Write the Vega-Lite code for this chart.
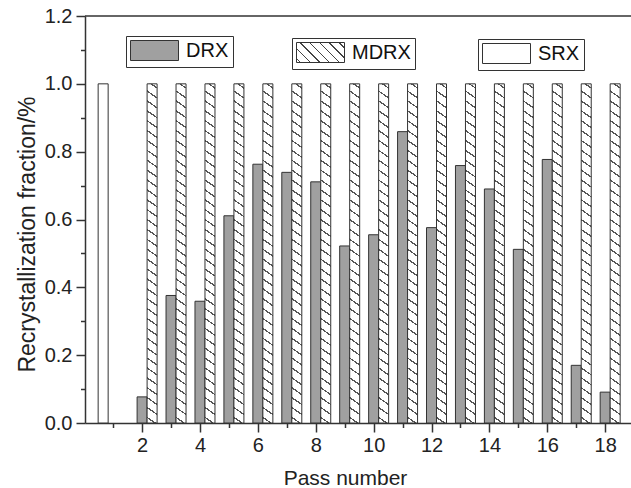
{
  "$schema": "https://vega.github.io/schema/vega-lite/v6.json",
  "width": 546,
  "height": 407,
  "autosize": {"type": "none"},
  "padding": {"left": 85, "top": 16, "right": 0, "bottom": 65},
  "background": "#ffffff",
  "config": {
    "font": "Liberation Sans",
    "view": {"stroke": null},
    "axis": {"grid": false, "domainColor": "#333333", "domainWidth": 1.5, "tickColor": "#333333", "tickWidth": 1.5, "labelFont": "Liberation Sans", "labelFontSize": 20, "labelColor": "#222222", "titleFont": "Liberation Sans", "titleFontWeight": "normal", "titleColor": "#222222", "labelFlush": false, "labelOverlap": false},
    "legend": {"orient": "none", "title": null, "strokeColor": "#333333", "strokeWidth": 1, "padding": 4, "symbolType": "M-1,-1H3.8V1H-1Z", "symbolSize": 400, "symbolStrokeWidth": 1, "labelFont": "Liberation Sans", "labelFontSize": 20, "labelColor": "#111111", "labelOffset": 35, "labelLimit": 200}
  },
  "data": {"values": [
    {"pass": 1, "type": "SRX", "value": 1.0},
    {"pass": 2, "type": "DRX", "value": 0.077},
    {"pass": 3, "type": "DRX", "value": 0.376},
    {"pass": 4, "type": "DRX", "value": 0.359},
    {"pass": 5, "type": "DRX", "value": 0.611},
    {"pass": 6, "type": "DRX", "value": 0.763},
    {"pass": 7, "type": "DRX", "value": 0.739},
    {"pass": 8, "type": "DRX", "value": 0.711},
    {"pass": 9, "type": "DRX", "value": 0.522},
    {"pass": 10, "type": "DRX", "value": 0.555},
    {"pass": 11, "type": "DRX", "value": 0.859},
    {"pass": 12, "type": "DRX", "value": 0.576},
    {"pass": 13, "type": "DRX", "value": 0.759},
    {"pass": 14, "type": "DRX", "value": 0.69},
    {"pass": 15, "type": "DRX", "value": 0.512},
    {"pass": 16, "type": "DRX", "value": 0.777},
    {"pass": 17, "type": "DRX", "value": 0.17},
    {"pass": 18, "type": "DRX", "value": 0.091},
    {"pass": 2, "type": "MDRX", "value": 1.0},
    {"pass": 3, "type": "MDRX", "value": 1.0},
    {"pass": 4, "type": "MDRX", "value": 1.0},
    {"pass": 5, "type": "MDRX", "value": 1.0},
    {"pass": 6, "type": "MDRX", "value": 1.0},
    {"pass": 7, "type": "MDRX", "value": 1.0},
    {"pass": 8, "type": "MDRX", "value": 1.0},
    {"pass": 9, "type": "MDRX", "value": 1.0},
    {"pass": 10, "type": "MDRX", "value": 1.0},
    {"pass": 11, "type": "MDRX", "value": 1.0},
    {"pass": 12, "type": "MDRX", "value": 1.0},
    {"pass": 13, "type": "MDRX", "value": 1.0},
    {"pass": 14, "type": "MDRX", "value": 1.0},
    {"pass": 15, "type": "MDRX", "value": 1.0},
    {"pass": 16, "type": "MDRX", "value": 1.0},
    {"pass": 17, "type": "MDRX", "value": 1.0},
    {"pass": 18, "type": "MDRX", "value": 1.0}
  ]},
  "encoding": {
    "y": {"field": "value", "type": "quantitative", "stack": null,
      "scale": {"domain": [0, 1.2], "nice": false, "zero": true},
      "axis": {"values": [0,0.1,0.2,0.3,0.4,0.5,0.6,0.7,0.8,0.9,1.0,1.1,1.2],
        "format": ".1f",
        "labelExpr": "round(datum.value*10) % 2 == 0 ? datum.label : ''",
        "tickSize": {"condition": {"test": "round(datum.value*10) % 2 == 0", "value": 9}, "value": 4.5},
        "labelPadding": 4, "title": "Recrystallization fraction/%", "titleFontSize": 23, "titlePadding": 5, "titleY": 218}}
  },
  "layer": [
    {
      "data": {"values": [{"value": 1.2}]},
      "mark": {"type": "rule", "color": "#333333", "strokeWidth": 1.5}
    },
    {
      "encoding": {
        "x": {"field": "pass", "type": "quantitative",
          "scale": {"domain": [0.2, 18.72], "nice": false, "zero": false},
          "axis": {"values": [1,2,3,4,5,6,7,8,9,10,11,12,13,14,15,16,17,18],
            "labelExpr": "datum.value % 2 == 0 ? datum.label : ''",
            "tickSize": {"condition": {"test": "datum.value % 2 == 0", "value": 9}, "value": 4.5},
            "labelPadding": 3, "title": "Pass number", "titleFontSize": 21, "titlePadding": 12, "titleX": 260}}
      },
      "layer": [
        {
          "transform": [{"filter": "datum.type == 'SRX'"}],
          "mark": {"type": "bar", "orient": "vertical", "width": 10, "xOffset": -10, "fill": "#ffffff", "stroke": "#333333", "strokeWidth": 1},
          "encoding": {"opacity": {"field": "type", "type": "nominal",
            "scale": {"domain": ["SRX"], "range": [1]},
            "legend": {"legendX": 393, "legendY": 23,
              "encode": {"symbols": {"stroke": {"value": "#333333"}, "strokeWidth": {"value": 1}}}}}}
        },
        {
          "transform": [{"filter": "datum.type == 'DRX'"}],
          "mark": {"type": "bar", "orient": "vertical", "width": 10, "xOffset": 0, "fill": "#a0a0a0", "stroke": "#333333", "strokeWidth": 1},
          "encoding": {"opacity": {"field": "type", "type": "nominal",
            "scale": {"domain": ["DRX"], "range": [1]},
            "legend": {"legendX": 41, "legendY": 20,
              "encode": {"symbols": {"stroke": {"value": "#333333"}, "strokeWidth": {"value": 1}}}}}}
        },
        {
          "transform": [{"filter": "datum.type == 'MDRX'"}],
          "mark": {"type": "bar", "orient": "vertical", "width": 10, "xOffset": 10, "strokeWidth": 1, "stroke": "#333333",
            "fill": {"gradient": "linear", "x1": 1, "y1": 0, "x2": 0.97893, "y2": 1.02025, "stops": [
                {"offset": 0, "color": "#ffffff"},
                {"offset": 0.01, "color": "#ffffff"}, {"offset": 0.01, "color": "#555555"}, {"offset": 0.0145, "color": "#555555"}, {"offset": 0.0145, "color": "#ffffff"},
                {"offset": 0.0386, "color": "#ffffff"}, {"offset": 0.0386, "color": "#555555"}, {"offset": 0.0431, "color": "#555555"}, {"offset": 0.0431, "color": "#ffffff"},
                {"offset": 0.0671, "color": "#ffffff"}, {"offset": 0.0671, "color": "#555555"}, {"offset": 0.0716, "color": "#555555"}, {"offset": 0.0716, "color": "#ffffff"},
                {"offset": 0.0957, "color": "#ffffff"}, {"offset": 0.0957, "color": "#555555"}, {"offset": 0.1002, "color": "#555555"}, {"offset": 0.1002, "color": "#ffffff"},
                {"offset": 0.1243, "color": "#ffffff"}, {"offset": 0.1243, "color": "#555555"}, {"offset": 0.1288, "color": "#555555"}, {"offset": 0.1288, "color": "#ffffff"},
                {"offset": 0.1529, "color": "#ffffff"}, {"offset": 0.1529, "color": "#555555"}, {"offset": 0.1574, "color": "#555555"}, {"offset": 0.1574, "color": "#ffffff"},
                {"offset": 0.1814, "color": "#ffffff"}, {"offset": 0.1814, "color": "#555555"}, {"offset": 0.1859, "color": "#555555"}, {"offset": 0.1859, "color": "#ffffff"},
                {"offset": 0.21, "color": "#ffffff"}, {"offset": 0.21, "color": "#555555"}, {"offset": 0.2145, "color": "#555555"}, {"offset": 0.2145, "color": "#ffffff"},
                {"offset": 0.2386, "color": "#ffffff"}, {"offset": 0.2386, "color": "#555555"}, {"offset": 0.2431, "color": "#555555"}, {"offset": 0.2431, "color": "#ffffff"},
                {"offset": 0.2671, "color": "#ffffff"}, {"offset": 0.2671, "color": "#555555"}, {"offset": 0.2716, "color": "#555555"}, {"offset": 0.2716, "color": "#ffffff"},
                {"offset": 0.2957, "color": "#ffffff"}, {"offset": 0.2957, "color": "#555555"}, {"offset": 0.3002, "color": "#555555"}, {"offset": 0.3002, "color": "#ffffff"},
                {"offset": 0.3243, "color": "#ffffff"}, {"offset": 0.3243, "color": "#555555"}, {"offset": 0.3288, "color": "#555555"}, {"offset": 0.3288, "color": "#ffffff"},
                {"offset": 0.3529, "color": "#ffffff"}, {"offset": 0.3529, "color": "#555555"}, {"offset": 0.3574, "color": "#555555"}, {"offset": 0.3574, "color": "#ffffff"},
                {"offset": 0.3814, "color": "#ffffff"}, {"offset": 0.3814, "color": "#555555"}, {"offset": 0.3859, "color": "#555555"}, {"offset": 0.3859, "color": "#ffffff"},
                {"offset": 0.41, "color": "#ffffff"}, {"offset": 0.41, "color": "#555555"}, {"offset": 0.4145, "color": "#555555"}, {"offset": 0.4145, "color": "#ffffff"},
                {"offset": 0.4386, "color": "#ffffff"}, {"offset": 0.4386, "color": "#555555"}, {"offset": 0.4431, "color": "#555555"}, {"offset": 0.4431, "color": "#ffffff"},
                {"offset": 0.4671, "color": "#ffffff"}, {"offset": 0.4671, "color": "#555555"}, {"offset": 0.4716, "color": "#555555"}, {"offset": 0.4716, "color": "#ffffff"},
                {"offset": 0.4957, "color": "#ffffff"}, {"offset": 0.4957, "color": "#555555"}, {"offset": 0.5002, "color": "#555555"}, {"offset": 0.5002, "color": "#ffffff"},
                {"offset": 0.5243, "color": "#ffffff"}, {"offset": 0.5243, "color": "#555555"}, {"offset": 0.5288, "color": "#555555"}, {"offset": 0.5288, "color": "#ffffff"},
                {"offset": 0.5529, "color": "#ffffff"}, {"offset": 0.5529, "color": "#555555"}, {"offset": 0.5574, "color": "#555555"}, {"offset": 0.5574, "color": "#ffffff"},
                {"offset": 0.5814, "color": "#ffffff"}, {"offset": 0.5814, "color": "#555555"}, {"offset": 0.5859, "color": "#555555"}, {"offset": 0.5859, "color": "#ffffff"},
                {"offset": 0.61, "color": "#ffffff"}, {"offset": 0.61, "color": "#555555"}, {"offset": 0.6145, "color": "#555555"}, {"offset": 0.6145, "color": "#ffffff"},
                {"offset": 0.6386, "color": "#ffffff"}, {"offset": 0.6386, "color": "#555555"}, {"offset": 0.6431, "color": "#555555"}, {"offset": 0.6431, "color": "#ffffff"},
                {"offset": 0.6671, "color": "#ffffff"}, {"offset": 0.6671, "color": "#555555"}, {"offset": 0.6716, "color": "#555555"}, {"offset": 0.6716, "color": "#ffffff"},
                {"offset": 0.6957, "color": "#ffffff"}, {"offset": 0.6957, "color": "#555555"}, {"offset": 0.7002, "color": "#555555"}, {"offset": 0.7002, "color": "#ffffff"},
                {"offset": 0.7243, "color": "#ffffff"}, {"offset": 0.7243, "color": "#555555"}, {"offset": 0.7288, "color": "#555555"}, {"offset": 0.7288, "color": "#ffffff"},
                {"offset": 0.7529, "color": "#ffffff"}, {"offset": 0.7529, "color": "#555555"}, {"offset": 0.7574, "color": "#555555"}, {"offset": 0.7574, "color": "#ffffff"},
                {"offset": 0.7814, "color": "#ffffff"}, {"offset": 0.7814, "color": "#555555"}, {"offset": 0.7859, "color": "#555555"}, {"offset": 0.7859, "color": "#ffffff"},
                {"offset": 0.81, "color": "#ffffff"}, {"offset": 0.81, "color": "#555555"}, {"offset": 0.8145, "color": "#555555"}, {"offset": 0.8145, "color": "#ffffff"},
                {"offset": 0.8386, "color": "#ffffff"}, {"offset": 0.8386, "color": "#555555"}, {"offset": 0.8431, "color": "#555555"}, {"offset": 0.8431, "color": "#ffffff"},
                {"offset": 0.8671, "color": "#ffffff"}, {"offset": 0.8671, "color": "#555555"}, {"offset": 0.8716, "color": "#555555"}, {"offset": 0.8716, "color": "#ffffff"},
                {"offset": 0.8957, "color": "#ffffff"}, {"offset": 0.8957, "color": "#555555"}, {"offset": 0.9002, "color": "#555555"}, {"offset": 0.9002, "color": "#ffffff"},
                {"offset": 0.9243, "color": "#ffffff"}, {"offset": 0.9243, "color": "#555555"}, {"offset": 0.9288, "color": "#555555"}, {"offset": 0.9288, "color": "#ffffff"},
                {"offset": 0.9529, "color": "#ffffff"}, {"offset": 0.9529, "color": "#555555"}, {"offset": 0.9574, "color": "#555555"}, {"offset": 0.9574, "color": "#ffffff"},
                {"offset": 0.9814, "color": "#ffffff"}, {"offset": 0.9814, "color": "#555555"}, {"offset": 0.9859, "color": "#555555"}, {"offset": 0.9859, "color": "#ffffff"},
                {"offset": 1, "color": "#ffffff"}
              ]}}
        },
        {
          "transform": [{"filter": "datum.type == 'none'"}],
          "mark": {"type": "bar", "orient": "vertical", "width": 10, "strokeWidth": 1, "stroke": "#333333",
            "fill": {"gradient": "linear", "x1": 0, "y1": 1, "x2": 1.207, "y2": 0.497, "stops": [
                {"offset": 0, "color": "#ffffff"},
                {"offset": 0.05, "color": "#ffffff"}, {"offset": 0.05, "color": "#444444"}, {"offset": 0.07, "color": "#444444"}, {"offset": 0.07, "color": "#ffffff"},
                {"offset": 0.1929, "color": "#ffffff"}, {"offset": 0.1929, "color": "#444444"}, {"offset": 0.2129, "color": "#444444"}, {"offset": 0.2129, "color": "#ffffff"},
                {"offset": 0.3357, "color": "#ffffff"}, {"offset": 0.3357, "color": "#444444"}, {"offset": 0.3557, "color": "#444444"}, {"offset": 0.3557, "color": "#ffffff"},
                {"offset": 0.4786, "color": "#ffffff"}, {"offset": 0.4786, "color": "#444444"}, {"offset": 0.4986, "color": "#444444"}, {"offset": 0.4986, "color": "#ffffff"},
                {"offset": 0.6214, "color": "#ffffff"}, {"offset": 0.6214, "color": "#444444"}, {"offset": 0.6414, "color": "#444444"}, {"offset": 0.6414, "color": "#ffffff"},
                {"offset": 0.7643, "color": "#ffffff"}, {"offset": 0.7643, "color": "#444444"}, {"offset": 0.7843, "color": "#444444"}, {"offset": 0.7843, "color": "#ffffff"},
                {"offset": 0.9071, "color": "#ffffff"}, {"offset": 0.9071, "color": "#444444"}, {"offset": 0.9271, "color": "#444444"}, {"offset": 0.9271, "color": "#ffffff"},
                {"offset": 1, "color": "#ffffff"}
              ]}},
          "encoding": {"opacity": {"field": "type", "type": "nominal",
            "scale": {"domain": ["MDRX"], "range": [1]},
            "legend": {"legendX": 207, "legendY": 22,
              "encode": {"symbols": {"stroke": {"value": "#333333"}, "strokeWidth": {"value": 1}}}}}}
        }
      ],
      "resolve": {"scale": {"opacity": "independent"}, "legend": {"opacity": "independent"}}
    }
  ]
}
